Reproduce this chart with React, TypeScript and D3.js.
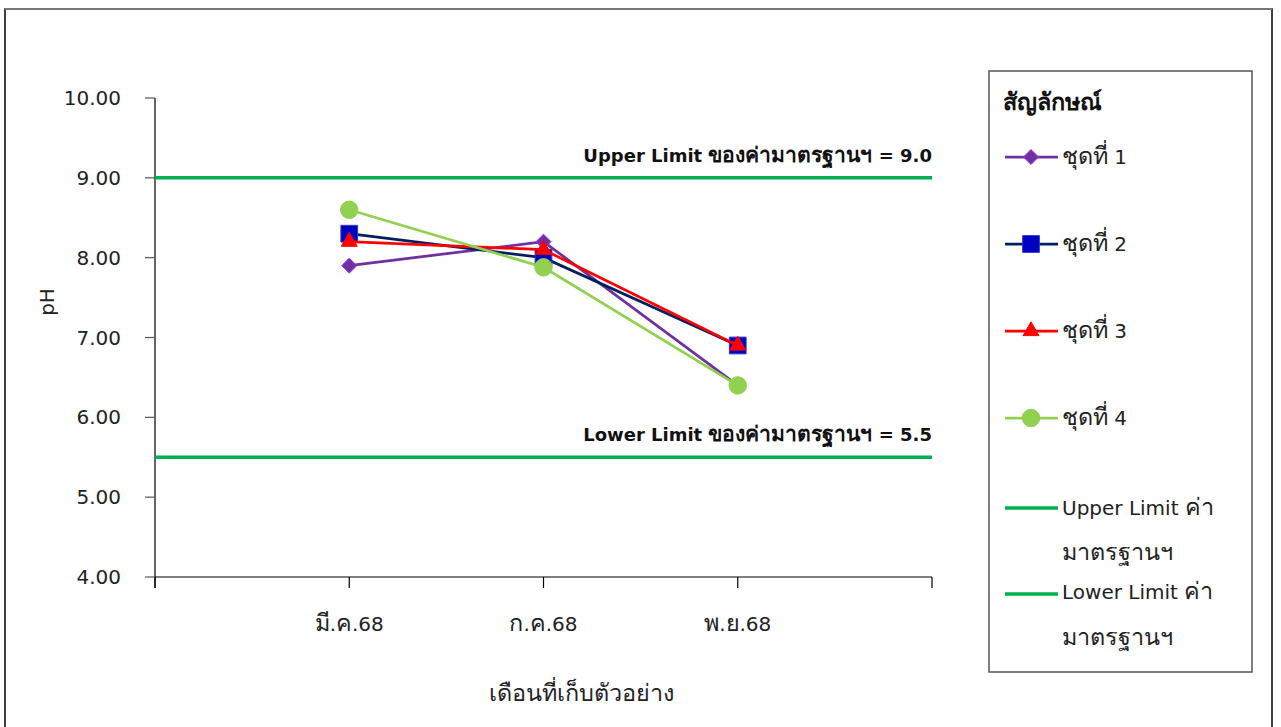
import React from "react";
import * as d3 from "d3";

const categories = ["มี.ค.68", "ก.ค.68", "พ.ย.68"];
const series1 = [7.9, 8.2, 6.4];
const series2 = [8.3, 8.0, 6.9];
const series3 = [8.2, 8.1, 6.9];
const series4 = [8.6, 7.88, 6.4];
const seriesNames = ["ชุดที่ 1", "ชุดที่ 2", "ชุดที่ 3", "ชุดที่ 4"];
const upperLimit = 9.0;
const lowerLimit = 5.5;
const yTicks = [4, 5, 6, 7, 8, 9, 10];

const FONT = "'DejaVu Sans', 'Noto Sans', sans-serif";
const THAI_SCALE = 1.17;

type Marker = "diamond" | "square" | "triangle" | "circle";
const seriesDefs: { values: number[]; line: string; fill: string; stroke: string; marker: Marker; size: number }[] = [
  { values: series1, line: "#7030a0", fill: "#7030a0", stroke: "#9933ff", marker: "diamond", size: 145 },
  { values: series2, line: "#002060", fill: "#0000c0", stroke: "#3333cc", marker: "square", size: 280 },
  { values: series3, line: "#ff0000", fill: "#ff0000", stroke: "#ff0000", marker: "triangle", size: 110 },
  { values: series4, line: "#92d050", fill: "#92d050", stroke: "#92d050", marker: "circle", size: 240 },
];

const symbolType = (m: Marker) =>
  m === "diamond" ? d3.symbolDiamond2 : m === "square" ? d3.symbolSquare : m === "triangle" ? d3.symbolTriangle : d3.symbolCircle;

function runs(s: string): { t: string; thai: boolean }[] {
  const out: { t: string; thai: boolean }[] = [];
  for (const ch of s) {
    const thai = /[\u0E00-\u0E7F]/.test(ch);
    const last = out[out.length - 1];
    if (last && last.thai === thai) last.t += ch;
    else out.push({ t: ch, thai });
  }
  return out;
}

function T(props: { s: string; size: number; [k: string]: any }) {
  const { s, size, ...rest } = props;
  return (
    <text fontSize={size} {...rest}>
      {runs(s).map((r, i) => (
        <tspan key={i} fontSize={r.thai ? size * THAI_SCALE : size}>
          {r.t}
        </tspan>
      ))}
    </text>
  );
}

export default function App() {
  const W = 1281, H = 727;
  const left = 155, right = 932, top = 98, bottom = 577;
  const x = d3.scaleLinear().domain([0, categories.length + 1]).range([left, right]);
  const y = d3.scaleLinear().domain([4, 10]).range([bottom, top]);
  const line = d3.line<number>().x((_, i) => x(i + 1)).y((d) => y(d));
  const xTickIdx = d3.range(0, categories.length + 2);

  const legendX = 989, legendY = 71, legendW = 263, legendH = 601;
  const legendRows = [157, 244, 331, 418];

  return (
    <svg width={W} height={H} style={{ position: "absolute", left: 0, top: 0 }} fontFamily={FONT}>
      <rect x={5} y={9} width={1267} height={740} fill="white" stroke="#000" strokeWidth={1.5} />
      <line x1={5} y1={9} x2={1272} y2={9} stroke="#777" strokeWidth={2} />

      {/* y axis */}
      <line x1={left} y1={top} x2={left} y2={bottom + 11} stroke="#000" strokeWidth={1.2} />
      {yTicks.map((t) => (
        <g key={t}>
          <line x1={left - 10} x2={left} y1={y(t)} y2={y(t)} stroke="#555" strokeWidth={1.2} />
          <text x={121} y={y(t)} dy="0.35em" textAnchor="end" fontSize={20} fill="#222">
            {t.toFixed(2)}
          </text>
        </g>
      ))}
      {/* x axis */}
      <line x1={left} y1={bottom} x2={right} y2={bottom} stroke="#000" strokeWidth={1.2} />
      {xTickIdx.map((i) => (
        <line key={i} x1={x(i)} x2={x(i)} y1={bottom} y2={bottom + 11} stroke="#000" strokeWidth={1.2} />
      ))}
      {categories.map((c, i) => (
        <T key={c} s={c} size={20} x={x(i + 1)} y={631} textAnchor="middle" fill="#222" />
      ))}
      <T s="เดือนที่เก็บตัวอย่าง" size={20} x={581} y={701} textAnchor="middle" fill="#222" />
      <text transform={`translate(54,302) rotate(-90)`} textAnchor="middle" fontSize={20} fill="#222">
        pH
      </text>

      {/* limit lines */}
      <line x1={left} x2={right} y1={y(upperLimit)} y2={y(upperLimit)} stroke="#00b050" strokeWidth={3.5} />
      <line x1={left} x2={right} y1={y(lowerLimit)} y2={y(lowerLimit)} stroke="#00b050" strokeWidth={3.5} />
      <T s="Upper Limit ของค่ามาตรฐานฯ = 9.0" size={18} x={right} y={y(upperLimit) - 16} textAnchor="end" fontWeight="bold" fill="#111" />
      <T s="Lower Limit ของค่ามาตรฐานฯ = 5.5" size={18} x={right} y={y(lowerLimit) - 16} textAnchor="end" fontWeight="bold" fill="#111" />

      {/* series */}
      {seriesDefs.map((s, si) => (
        <g key={si}>
          <path d={line(s.values) || ""} fill="none" stroke={s.line} strokeWidth={2.75} />
          {s.values.map((v, i) => (
            <path
              key={i}
              transform={`translate(${x(i + 1)},${y(v)})`}
              d={d3.symbol().type(symbolType(s.marker)).size(s.size)() || ""}
              fill={s.fill}
              stroke={s.stroke}
              strokeWidth={1}
            />
          ))}
        </g>
      ))}

      {/* legend */}
      <rect x={legendX} y={legendY} width={legendW} height={legendH} fill="white" stroke="#555" strokeWidth={1.5} />
      <T s="สัญลักษณ์" size={20} x={1003} y={110} fontWeight="bold" fill="#111" />
      {seriesDefs.map((s, si) => (
        <g key={si}>
          <line x1={1005} x2={1058} y1={legendRows[si]} y2={legendRows[si]} stroke={s.line} strokeWidth={2.75} />
          <path
            transform={`translate(1031,${legendRows[si]})`}
            d={d3.symbol().type(symbolType(s.marker)).size(s.size)() || ""}
            fill={s.fill}
            stroke={s.stroke}
            strokeWidth={1}
          />
          <T s={seriesNames[si]} size={20} x={1062} y={legendRows[si] + 7} fill="#222" />
        </g>
      ))}
      <line x1={1005} x2={1058} y1={508} y2={508} stroke="#00b050" strokeWidth={3.5} />
      <T s="Upper Limit ค่า" size={20} x={1062} y={515} fill="#222" />
      <T s="มาตรฐานฯ" size={20} x={1062} y={560} fill="#222" />
      <line x1={1005} x2={1058} y1={594} y2={594} stroke="#00b050" strokeWidth={3.5} />
      <T s="Lower Limit ค่า" size={20} x={1062} y={599} fill="#222" />
      <T s="มาตรฐานฯ" size={20} x={1062} y={645} fill="#222" />
    </svg>
  );
}
